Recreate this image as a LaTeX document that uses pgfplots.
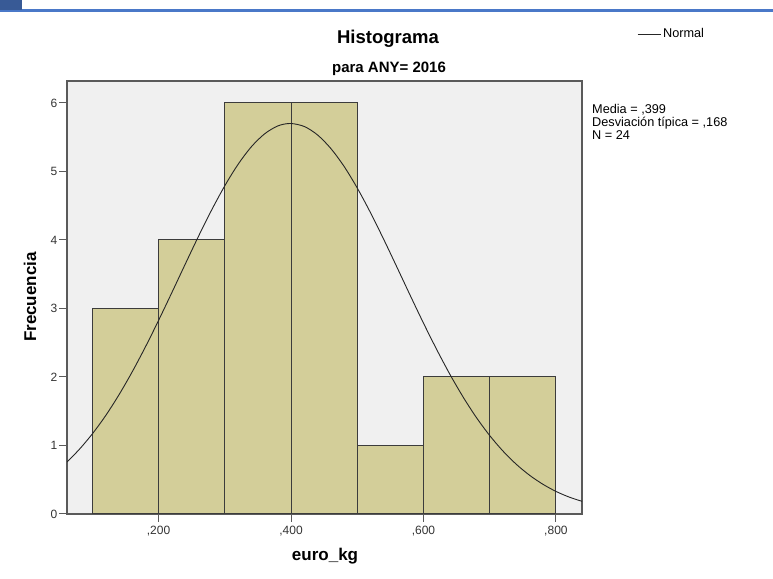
\documentclass[border=0pt]{standalone}
\usepackage{fontspec}
\setmainfont{Liberation Sans}
\usepackage{pgfplots}
\pgfplotsset{compat=1.18}
\definecolor{barfill}{HTML}{D3CE99}
\definecolor{plotbg}{HTML}{F0F0F0}
\definecolor{edge}{HTML}{3C3C3C}
\definecolor{framegray}{HTML}{5A5A5A}
\definecolor{topblue}{HTML}{4A78C8}

\begin{document}
\begin{tikzpicture}[x=1pt,y=1pt]
\path[use as bounding box] (0,0) rectangle (773,578);
% window decoration at the top
\fill[topblue] (0,566) rectangle (773,568.5);
\fill[topblue!75!black] (0,568) rectangle (22,578);

\begin{axis}[
    at={(67pt,64pt)}, anchor=south west,
    scale only axis, width=515pt, height=433pt,
    xmin=0.0617, xmax=0.8394,
    ymin=0, ymax=6.32,
    axis background/.style={fill=plotbg},
    axis line style={framegray, line width=1.2pt},
    tick pos=left, tick align=outside,
    major tick length=8pt,
    tick style={framegray, line width=1pt},
    xtick={0.2,0.4,0.6,0.8},
    xticklabels={{,200},{,400},{,600},{,800}},
    ytick={0,1,2,3,4,5,6},
    /pgf/number format/assume math mode=true,
    tick label style={font=\fontsize{12}{14}\selectfont, text=black!80},
    yticklabel style={inner sep=1.5pt},
    xticklabel style={inner sep=2pt, yshift=-2pt},
    xlabel={euro\_kg},
    ylabel={Frecuencia},
    label style={font=\bfseries\fontsize{17}{20}\selectfont},
    xlabel style={at={(axis description cs:0.501,-0.098)}, anchor=center},
    ylabel style={at={(axis description cs:-0.0718,0.501)}, anchor=center},
    legend style={draw=none, fill=none, inner sep=0pt,
        at={(axis description cs:1.1068,1.1085)}, anchor=west,
        font=\fontsize{12.7}{14}\selectfont},
    legend image code/.code={\draw[#1] (0pt,0pt) -- (23pt,0pt);},
]
% histogram bars: counts per 0.1 interval
\addplot[ybar interval, fill=barfill, draw=edge, line width=1pt, forget plot]
    coordinates {(0.1,3) (0.2,4) (0.3,6) (0.4,6) (0.5,1) (0.6,2) (0.7,2) (0.8,2)};

% normal curve (media ,399; desv. ,168; N = 24)
\addplot[black!85, line width=0.9pt, smooth] coordinates {
    (0.0617,0.76) (0.08,0.940) (0.10,1.170) (0.12,1.435) (0.14,1.737)
    (0.16,2.072) (0.18,2.437) (0.20,2.826) (0.22,3.231) (0.24,3.642)
    (0.26,4.048) (0.28,4.435) (0.30,4.791) (0.32,5.103) (0.34,5.359)
    (0.36,5.548) (0.38,5.664) (0.399,5.700) (0.42,5.656) (0.44,5.533)
    (0.46,5.336) (0.48,5.075) (0.50,4.758) (0.52,4.398) (0.54,4.008)
    (0.56,3.601) (0.58,3.190) (0.60,2.786) (0.62,2.400) (0.64,2.037)
    (0.66,1.705) (0.68,1.407) (0.70,1.145) (0.72,0.919) (0.74,0.727)
    (0.76,0.567) (0.78,0.436) (0.80,0.330) (0.82,0.247) (0.8394,0.185)
};
\addlegendentry{Normal}
\end{axis}

\node[anchor=base, font=\bfseries\fontsize{18.5}{22}\selectfont] at (388,534) {Histograma};
\node[anchor=base, font=\bfseries\fontsize{15}{18}\selectfont] at (389,505) {para ANY= 2016};

\begin{scope}[every node/.style={anchor=base west, inner sep=0pt, font=\fontsize{12.7}{13}\selectfont}]
\node at (592,464) {Media = ,399};
\node at (592,451) {Desviación típica = ,168};
\node at (592,438) {N = 24};
\end{scope}
\end{tikzpicture}
\end{document}
